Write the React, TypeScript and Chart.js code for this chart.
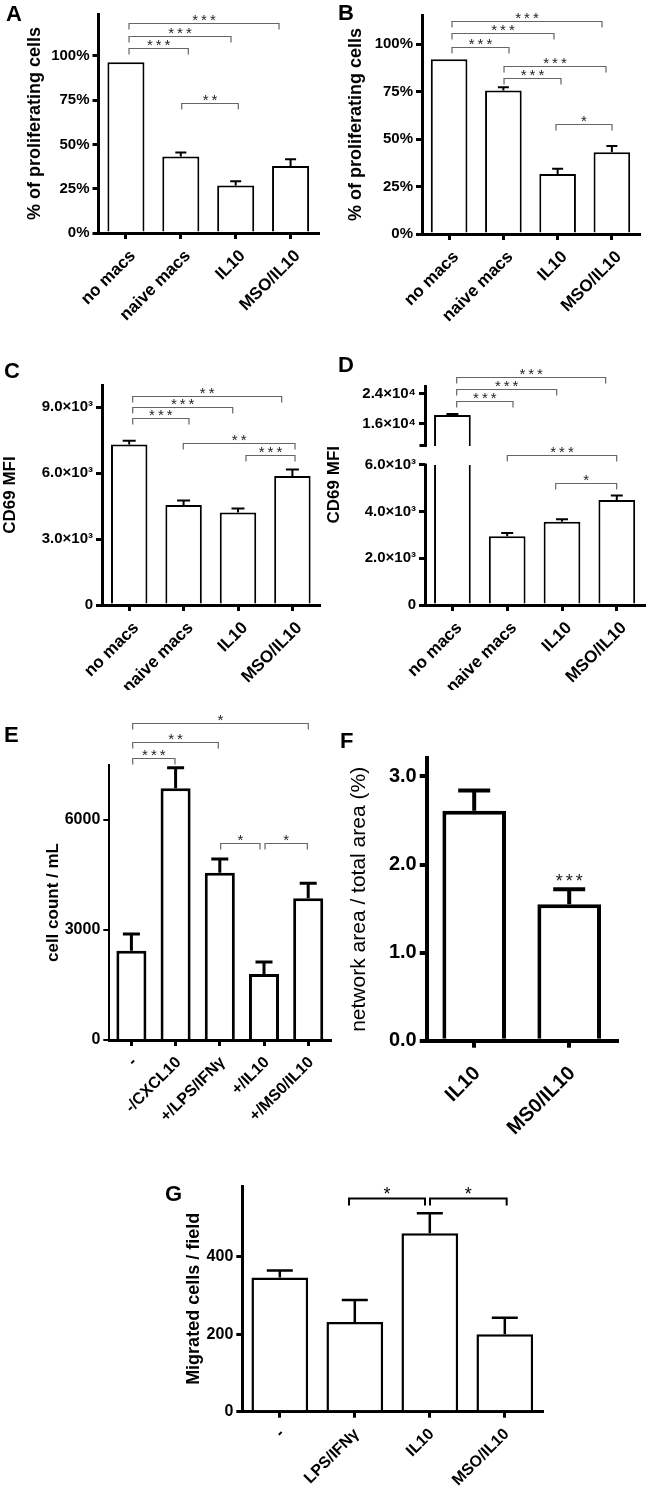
import { useEffect, useRef } from 'react';
import { Chart, registerables } from 'chart.js';

Chart.register(...registerables);

const FONT = "'Liberation Sans', Arial, Helvetica, sans-serif";

type Bracket = { a: number; b: number; y: number; label: string; axis?: string };
type Mark = { x: number; y: number; label: string };

// ---------------- DATA ----------------
// Panel A
const categoriesA = ['no macs', 'naive macs', 'IL10', 'MSO/IL10'];
const valuesA = [96.5, 43.2, 26.8, 37.8];
const errorsA = [0, 2.3, 2.5, 3.8];
const tickValuesA = [0, 25, 50, 75, 100];
const tickLabelsA = ['0%', '25%', '50%', '75%', '100%'];
const bracketsA: Bracket[] = [
  { a: 0.056, b: 2.79, y: 118.5, label: '***' },
  { a: 0.056, b: 1.915, y: 111.3, label: '***' },
  { a: 0.056, b: 1.137, y: 104.7, label: '***' },
  { a: 1.016, b: 2.048, y: 73.3, label: '**' },
];

// Panel B
const categoriesB = ['no macs', 'naive macs', 'IL10', 'MSO/IL10'];
const valuesB = [92, 75.5, 31.6, 43];
const errorsB = [0, 1.8, 2.8, 3.3];
const tickValuesB = [0, 25, 50, 75, 100];
const tickLabelsB = ['0%', '25%', '50%', '75%', '100%'];
const bracketsB: Bracket[] = [
  { a: 0.053, b: 2.818, y: 112, label: '***' },
  { a: 0.053, b: 1.933, y: 105.6, label: '***' },
  { a: 0.053, b: 1.104, y: 98.6, label: '***' },
  { a: 1.012, b: 2.892, y: 88.6, label: '***' },
  { a: 1.012, b: 2.062, y: 82.3, label: '***' },
  { a: 1.97, b: 3.002, y: 57.7, label: '*' },
];

// Panel C
const categoriesC = ['no macs', 'naive macs', 'IL10', 'MSO/IL10'];
const valuesC = [7300, 4550, 4210, 5860];
const errorsC = [170, 200, 180, 300];
const tickValuesC = [0, 3000, 6000, 9000];
const tickLabelsC = ['0', '3.0×10³', '6.0×10³', '9.0×10³'];
const bracketsC: Bracket[] = [
  { a: 0.064, b: 2.803, y: 9514, label: '**' },
  { a: 0.064, b: 1.903, y: 9014, label: '***' },
  { a: 0.064, b: 1.099, y: 8486, label: '***' },
  { a: 0.994, b: 3.048, y: 7377, label: '**' },
  { a: 2.147, b: 3.048, y: 6818, label: '***' },
];

// Panel D (broken axis)
const categoriesD = ['no macs', 'naive macs', 'IL10', 'MSO/IL10'];
const valuesD = [18400, 2950, 3570, 4500];
const errorsD = [250, 140, 100, 190];
const tickValuesD = [0, 2000, 4000, 6000];
const tickLabelsD = ['0', '2.0×10³', '4.0×10³', '6.0×10³'];
const tickValuesDUpper = [16000, 24000];
const tickLabelsDUpper = ['1.6×10⁴', '2.4×10⁴'];
const bracketsD: Bracket[] = [
  { a: 0.078, b: 2.797, y: 28600, label: '***', axis: 'yU' },
  { a: 0.078, b: 1.903, y: 25333, label: '***', axis: 'yU' },
  { a: 0.078, b: 1.106, y: 22213, label: '***', axis: 'yU' },
  { a: 1.002, b: 2.998, y: 6424, label: '***' },
  { a: 1.885, b: 2.998, y: 5212, label: '*' },
];
const breakLowD = 6000;
const lowerMaxD = 6814;
const upperMinD = 10133;
const upperMaxD = 26400;

// Panel E
const categoriesE = ['-', '-/CXCL10', '+/LPS/IFNγ', '+/IL10', '+/MS0/IL10'];
const valuesE = [2436, 6864, 4563, 1800, 3864];
const errorsE = [455, 563, 373, 327, 409];
const tickValuesE = [0, 3000, 6000];
const tickLabelsE = ['0', '3000', '6000'];
const bracketsE: Bracket[] = [
  { a: 0.029, b: 4.002, y: 8654, label: '*' },
  { a: 0.029, b: 1.966, y: 8136, label: '**' },
  { a: 0.029, b: 0.986, y: 7682, label: '***' },
  { a: 2.02, b: 2.91, y: 5381, label: '*' },
  { a: 3.023, b: 3.98, y: 5381, label: '*' },
];

// Panel F
const categoriesF = ['IL10', 'MS0/IL10'];
const valuesF = [2.61, 1.55];
const errorsF = [0.23, 0.17];
const tickValuesF = [0, 1, 2, 3];
const tickLabelsF = ['0.0', '1.0', '2.0', '3.0'];
const marksF: Mark[] = [{ x: 1, y: 1.75, label: '***' }];

// Panel G
const categoriesG = ['-', 'LPS/IFNγ', 'IL10', 'MSO/IL10'];
const valuesG = [346, 231, 460, 200];
const errorsG = [18, 57, 52, 42];
const tickValuesG = [0, 200, 400];
const tickLabelsG = ['0', '200', '400'];
const bracketsG: Bracket[] = [
  { a: 0.923, b: 1.936, y: 552, label: '*' },
  { a: 2.003, b: 3.025, y: 552, label: '*' },
];

// ---------------- PANEL SETTINGS ----------------
type Panel = {
  canvas: [number, number, number, number];
  area: [number, number, number, number];
  titleX: number;
  title: string;
  titleSize: number;
  titleWeight: string;
  tickSize: number;
  catSize: number;
  cats: string[];
  vals: number[];
  errs: number[];
  yMin: number;
  yMax: number;
  ticks: number[];
  tickLabels: string[];
  brackets: Bracket[];
  marks?: Mark[];
  axisW: number;
  axisWX: number;
  barW: number;
  errW: number;
  capW: number;
  tickLen: number;
  barPct: number;
  brColor: string;
  brWidth: number;
  brDrop: number;
  starSize: number;
  starColor: string;
  starSpacing: number;
  starOff: number;
  labelPad: number;
  labelOffset: number;
};

const common = {
  titleWeight: 'bold',
  axisW: 3,
  axisWX: 3,
  barW: 2,
  errW: 2,
  tickLen: 6,
  brColor: '#666',
  brWidth: 1.2,
  brDrop: 6,
  starSize: 15,
  starColor: '#222',
  starSpacing: 3,
  starOff: 1,
  labelPad: 7,
  labelOffset: 7,
};

const panelA: Panel = {
  ...common,
  canvas: [0, 0, 324, 330],
  area: [98.5, 14, 318, 233],
  titleX: 35, title: '% of proliferating cells', titleSize: 18,
  tickSize: 15, catSize: 17,
  cats: categoriesA, vals: valuesA, errs: errorsA,
  yMin: 0, yMax: 123.7, ticks: tickValuesA, tickLabels: tickLabelsA,
  brackets: bracketsA, capW: 11, barPct: 0.675,
};

const panelB: Panel = {
  ...common,
  canvas: [324, 0, 324, 330],
  area: [422, 15, 639, 234],
  titleX: 356, title: '% of proliferating cells', titleSize: 18,
  tickSize: 15, catSize: 17,
  cats: categoriesB, vals: valuesB, errs: errorsB,
  yMin: 0, yMax: 115.3, ticks: tickValuesB, tickLabels: tickLabelsB,
  brackets: bracketsB, capW: 11, barPct: 0.675,
};

const panelC: Panel = {
  ...common,
  canvas: [0, 330, 324, 360],
  area: [102, 385, 319.6, 605],
  titleX: 10, title: 'CD69 MFI', titleSize: 17,
  tickSize: 15, catSize: 17,
  cats: categoriesC, vals: valuesC, errs: errorsC,
  yMin: 0, yMax: 10000, ticks: tickValuesC, tickLabels: tickLabelsC,
  brackets: bracketsC, capW: 13, barPct: 0.67,
};

const panelD: Panel = {
  ...common,
  canvas: [324, 330, 324, 360],
  area: [425, 385, 644.2, 605],
  titleX: 334, title: 'CD69 MFI', titleSize: 17,
  tickSize: 15, catSize: 17,
  cats: categoriesD, vals: valuesD, errs: errorsD,
  yMin: 0, yMax: lowerMaxD, ticks: tickValuesD, tickLabels: tickLabelsD,
  brackets: bracketsD, capW: 12, barPct: 0.67,
};

const panelE: Panel = {
  ...common,
  axisW: 2, barW: 3, errW: 3,
  canvas: [0, 690, 340, 470],
  area: [109.3, 765, 330.3, 1040],
  titleX: 53, title: 'cell count / mL', titleSize: 17,
  tickSize: 16, catSize: 16,
  cats: categoriesE, vals: valuesE, errs: errorsE,
  yMin: 0, yMax: 7500, ticks: tickValuesE, tickLabels: tickLabelsE,
  brackets: bracketsE, capW: 17, barPct: 0.68, starSize: 15,
  labelPad: 7, labelOffset: 3,
};

const panelF: Panel = {
  ...common,
  axisW: 4, axisWX: 4, barW: 4, errW: 4, tickLen: 7,
  canvas: [324, 690, 324, 480],
  area: [426.7, 758, 616.7, 1040.7],
  titleX: 359, title: 'network area / total area (%)', titleSize: 21, titleWeight: 'normal',
  tickSize: 20, catSize: 20,
  cats: categoriesF, vals: valuesF, errs: errorsF,
  yMin: 0, yMax: 3.21, ticks: tickValuesF, tickLabels: tickLabelsF,
  brackets: [], marks: marksF, capW: 32, barPct: 0.67, starSize: 18,
  labelPad: 14, labelOffset: 3,
};

const panelG: Panel = {
  ...common,
  barW: 2.5, errW: 2.5,
  canvas: [150, 1170, 410, 322],
  area: [242.3, 1186, 542.3, 1411.7],
  titleX: 194, title: 'Migrated cells / field', titleSize: 18,
  tickSize: 16, catSize: 16,
  cats: categoriesG, vals: valuesG, errs: errorsG,
  yMin: 0, yMax: 582, ticks: tickValuesG, tickLabels: tickLabelsG,
  brackets: bracketsG, capW: 26, barPct: 0.756,
  brColor: '#000', brWidth: 2, brDrop: 7, starSize: 18, starColor: '#000', starOff: 1,
  labelPad: 7, labelOffset: 2,
};

// ---------------- HELPERS ----------------
function layoutOf(p: Panel) {
  const [cx, cy, cw, ch] = p.canvas;
  const [al, at, ar, ab] = p.area;
  const lh = p.titleSize * 1.2;
  const padLeft = Math.max(0, p.titleX - cx - lh / 2);
  return {
    padLeft,
    yWidth: al - cx - padLeft,
    padTop: at - cy,
    padRight: cx + cw - ar,
    xHeight: cy + ch - ab,
  };
}

function yAxis(p: Panel, L: any, o: any) {
  return {
    type: 'linear',
    position: 'left',
    min: o.min,
    max: o.max,
    z: 1,
    stack: o.stack,
    stackWeight: o.weight,
    afterBuildTicks: (s: any) => {
      s.ticks = o.ticks.map((v: number) => ({ value: v }));
    },
    afterFit: (s: any) => {
      s.width = L.yWidth;
    },
    ticks: {
      autoSkip: false,
      callback: (_v: any, i: number) => o.labels[i],
      font: { family: FONT, size: p.tickSize, weight: 'bold' },
      color: '#000',
      padding: 3,
    },
    grid: {
      display: true,
      drawOnChartArea: false,
      drawTicks: true,
      tickLength: p.tickLen,
      lineWidth: p.axisW,
      tickWidth: p.axisW,
      tickColor: '#000',
      color: '#000',
    },
    border: { display: o.border !== false, width: p.axisW, color: '#000' },
    title: {
      display: o.title !== false,
      text: o.titleText || p.title,
      align: o.align || 'center',
      color: '#000',
      font: { family: FONT, size: p.titleSize, weight: p.titleWeight },
      padding: 0,
    },
  };
}

function xAxis(p: Panel, L: any) {
  return {
    type: 'category',
    offset: true,
    z: 1,
    afterFit: (s: any) => {
      s.height = L.xHeight;
    },
    ticks: {
      minRotation: 45,
      maxRotation: 45,
      autoSkip: false,
      font: { family: FONT, size: p.catSize, weight: 'bold' },
      color: '#000',
      padding: p.labelPad,
      labelOffset: p.labelOffset,
    },
    grid: {
      display: true,
      drawOnChartArea: false,
      offset: false,
      drawTicks: true,
      tickLength: p.tickLen,
      lineWidth: p.axisWX,
      tickWidth: p.axisWX,
      tickColor: '#000',
      color: '#000',
    },
    border: { display: true, width: p.axisWX, color: '#000' },
  };
}

function drawStars(ctx: CanvasRenderingContext2D, text: string, x: number, y: number, p: Panel) {
  ctx.font = `${p.starSize}px ${FONT}`;
  ctx.fillStyle = p.starColor;
  ctx.textAlign = 'center';
  ctx.textBaseline = 'alphabetic';
  (ctx as any).letterSpacing = `${p.starSpacing}px`;
  ctx.fillText(text, x + p.starSpacing / 2, y);
  (ctx as any).letterSpacing = '0px';
}

function annotationPlugin(p: Panel) {
  return {
    id: 'annot',
    afterDatasetsDraw(chart: any) {
      const ctx = chart.ctx as CanvasRenderingContext2D;
      ctx.save();
      ctx.strokeStyle = '#000';
      ctx.lineWidth = p.errW;
      chart.data.datasets.forEach((ds: any, di: number) => {
        const meta = chart.getDatasetMeta(di);
        const ys = chart.scales[meta.yAxisID];
        ds.data.forEach((v: number | null, i: number) => {
          if (v == null || v !== p.vals[i] || !p.errs[i]) return;
          const el = meta.data[i];
          const x = el.x;
          const yTop = ys.getPixelForValue(v + p.errs[i]);
          const yBar = ys.getPixelForValue(v);
          ctx.beginPath();
          ctx.moveTo(x, yBar);
          ctx.lineTo(x, yTop);
          ctx.moveTo(x - p.capW / 2, yTop);
          ctx.lineTo(x + p.capW / 2, yTop);
          ctx.stroke();
        });
      });
      ctx.restore();
    },
    afterDraw(chart: any) {
      const ctx = chart.ctx as CanvasRenderingContext2D;
      const xs = chart.scales.x;
      ctx.save();
      for (const b of p.brackets) {
        const ys = chart.scales[b.axis || 'y'];
        const x1 = xs.getPixelForValue(b.a);
        const x2 = xs.getPixelForValue(b.b);
        const y = Math.round(ys.getPixelForValue(b.y)) + 0.5;
        ctx.strokeStyle = p.brColor;
        ctx.lineWidth = p.brWidth;
        ctx.beginPath();
        ctx.moveTo(x1, y + p.brDrop);
        ctx.lineTo(x1, y);
        ctx.lineTo(x2, y);
        ctx.lineTo(x2, y + p.brDrop);
        ctx.stroke();
        drawStars(ctx, b.label, (x1 + x2) / 2, y + p.starOff, p);
      }
      for (const m of p.marks || []) {
        const ys = chart.scales.y;
        drawStars(ctx, m.label, xs.getPixelForValue(m.x), ys.getPixelForValue(m.y), p);
      }
      ctx.restore();
    },
  };
}

function baseOptions(L: any) {
  return {
    responsive: false,
    animation: false,
    devicePixelRatio: 1,
    events: [],
    layout: { padding: { left: L.padLeft, top: L.padTop, right: L.padRight, bottom: 0 } },
    plugins: { legend: { display: false }, tooltip: { enabled: false }, title: { display: false } },
  };
}

function buildConfig(p: Panel): any {
  const L = layoutOf(p);
  return {
    type: 'bar',
    data: {
      labels: p.cats,
      datasets: [
        {
          data: p.vals,
          backgroundColor: '#fff',
          borderColor: '#000',
          borderWidth: p.barW,
          borderSkipped: 'start',
          barPercentage: p.barPct,
          categoryPercentage: 1,
        },
      ],
    },
    options: {
      ...baseOptions(L),
      scales: {
        x: xAxis(p, L),
        y: yAxis(p, L, { min: p.yMin, max: p.yMax, ticks: p.ticks, labels: p.tickLabels }),
      },
    },
    plugins: [annotationPlugin(p)],
  };
}

function buildConfigD(): any {
  const p = panelD;
  const L = layoutOf(p);
  const lowerPx = p.area[3] - 446;
  const upperPx = 446 - p.area[1];
  const brokenAxis = {
    id: 'brokenAxis',
    afterDraw(chart: any) {
      const lo = chart.scales.y;
      const up = chart.scales.yU;
      const ctx = chart.ctx as CanvasRenderingContext2D;
      const x = Math.round(lo.right - p.axisW / 2) + p.axisW / 2;
      ctx.save();
      ctx.strokeStyle = '#000';
      ctx.lineWidth = p.axisW;
      ctx.beginPath();
      ctx.moveTo(x, lo.getPixelForValue(0) + 1.5);
      ctx.lineTo(x, lo.getPixelForValue(breakLowD) - 1.5);
      ctx.moveTo(x, up.bottom);
      ctx.lineTo(x, up.top);
      ctx.stroke();
      ctx.beginPath();
      ctx.moveTo(x - p.tickLen, up.bottom - 0.5);
      ctx.lineTo(x + 1.5, up.bottom - 0.5);
      ctx.stroke();
      ctx.restore();
    },
  };
  const lowerData = p.vals.map((v) => Math.min(v, breakLowD));
  const upperData = p.vals.map((v) => (v > upperMinD ? v : null));
  return {
    type: 'bar',
    data: {
      labels: p.cats,
      datasets: [
        {
          data: lowerData,
          yAxisID: 'y',
          grouped: false,
          backgroundColor: '#fff',
          borderColor: '#000',
          borderSkipped: 'start',
          borderWidth: (c: any) =>
            p.vals[c.dataIndex] > breakLowD ? { left: p.barW, right: p.barW, top: 0, bottom: 0 } : p.barW,
          barPercentage: p.barPct,
          categoryPercentage: 1,
        },
        {
          data: upperData,
          yAxisID: 'yU',
          grouped: false,
          base: upperMinD,
          backgroundColor: '#fff',
          borderColor: '#000',
          borderSkipped: 'start',
          borderWidth: p.barW,
          barPercentage: p.barPct,
          categoryPercentage: 1,
        },
      ],
    },
    options: {
      ...baseOptions(L),
      scales: {
        x: xAxis(p, L),
        y: yAxis(p, L, {
          min: 0, max: lowerMaxD, ticks: tickValuesD, labels: tickLabelsD,
          border: false, stack: 'd', weight: lowerPx, align: 'end',
        }),
        yU: yAxis(p, L, {
          min: upperMinD, max: upperMaxD, ticks: tickValuesDUpper, labels: tickLabelsDUpper,
          border: false, stack: 'd', weight: upperPx, title: false,
        }),
      },
    },
    plugins: [annotationPlugin(p), brokenAxis],
  };
}

function PanelChart({ rect, make }: { rect: [number, number, number, number]; make: () => any }) {
  const ref = useRef<HTMLCanvasElement>(null);
  useEffect(() => {
    const chart = new Chart(ref.current as HTMLCanvasElement, make());
    return () => chart.destroy();
  }, []);
  const [x, y, w, h] = rect;
  return (
    <canvas
      ref={ref}
      width={w}
      height={h}
      style={{ position: 'absolute', left: x, top: y, width: w, height: h, display: 'block' }}
    />
  );
}

const letters: [string, number, number][] = [
  ['A', 6, 3],
  ['B', 338, 2],
  ['C', 4, 360],
  ['D', 338, 354],
  ['E', 4, 724],
  ['F', 340, 730],
  ['G', 165, 1183],
];

export default function App() {
  return (
    <div style={{ position: 'absolute', left: 0, top: 0, width: 648, height: 1492, background: '#fff', overflow: 'hidden' }}>
      <PanelChart rect={panelA.canvas} make={() => buildConfig(panelA)} />
      <PanelChart rect={panelB.canvas} make={() => buildConfig(panelB)} />
      <PanelChart rect={panelC.canvas} make={() => buildConfig(panelC)} />
      <PanelChart rect={panelD.canvas} make={() => buildConfigD()} />
      <PanelChart rect={panelE.canvas} make={() => buildConfig(panelE)} />
      <PanelChart rect={panelF.canvas} make={() => buildConfig(panelF)} />
      <PanelChart rect={panelG.canvas} make={() => buildConfig(panelG)} />
      {letters.map(([t, x, y]) => (
        <div
          key={t}
          style={{
            position: 'absolute', left: x, top: y, fontFamily: FONT, fontWeight: 'bold',
            fontSize: 22, lineHeight: '22px', color: '#000',
          }}
        >
          {t}
        </div>
      ))}
    </div>
  );
}
